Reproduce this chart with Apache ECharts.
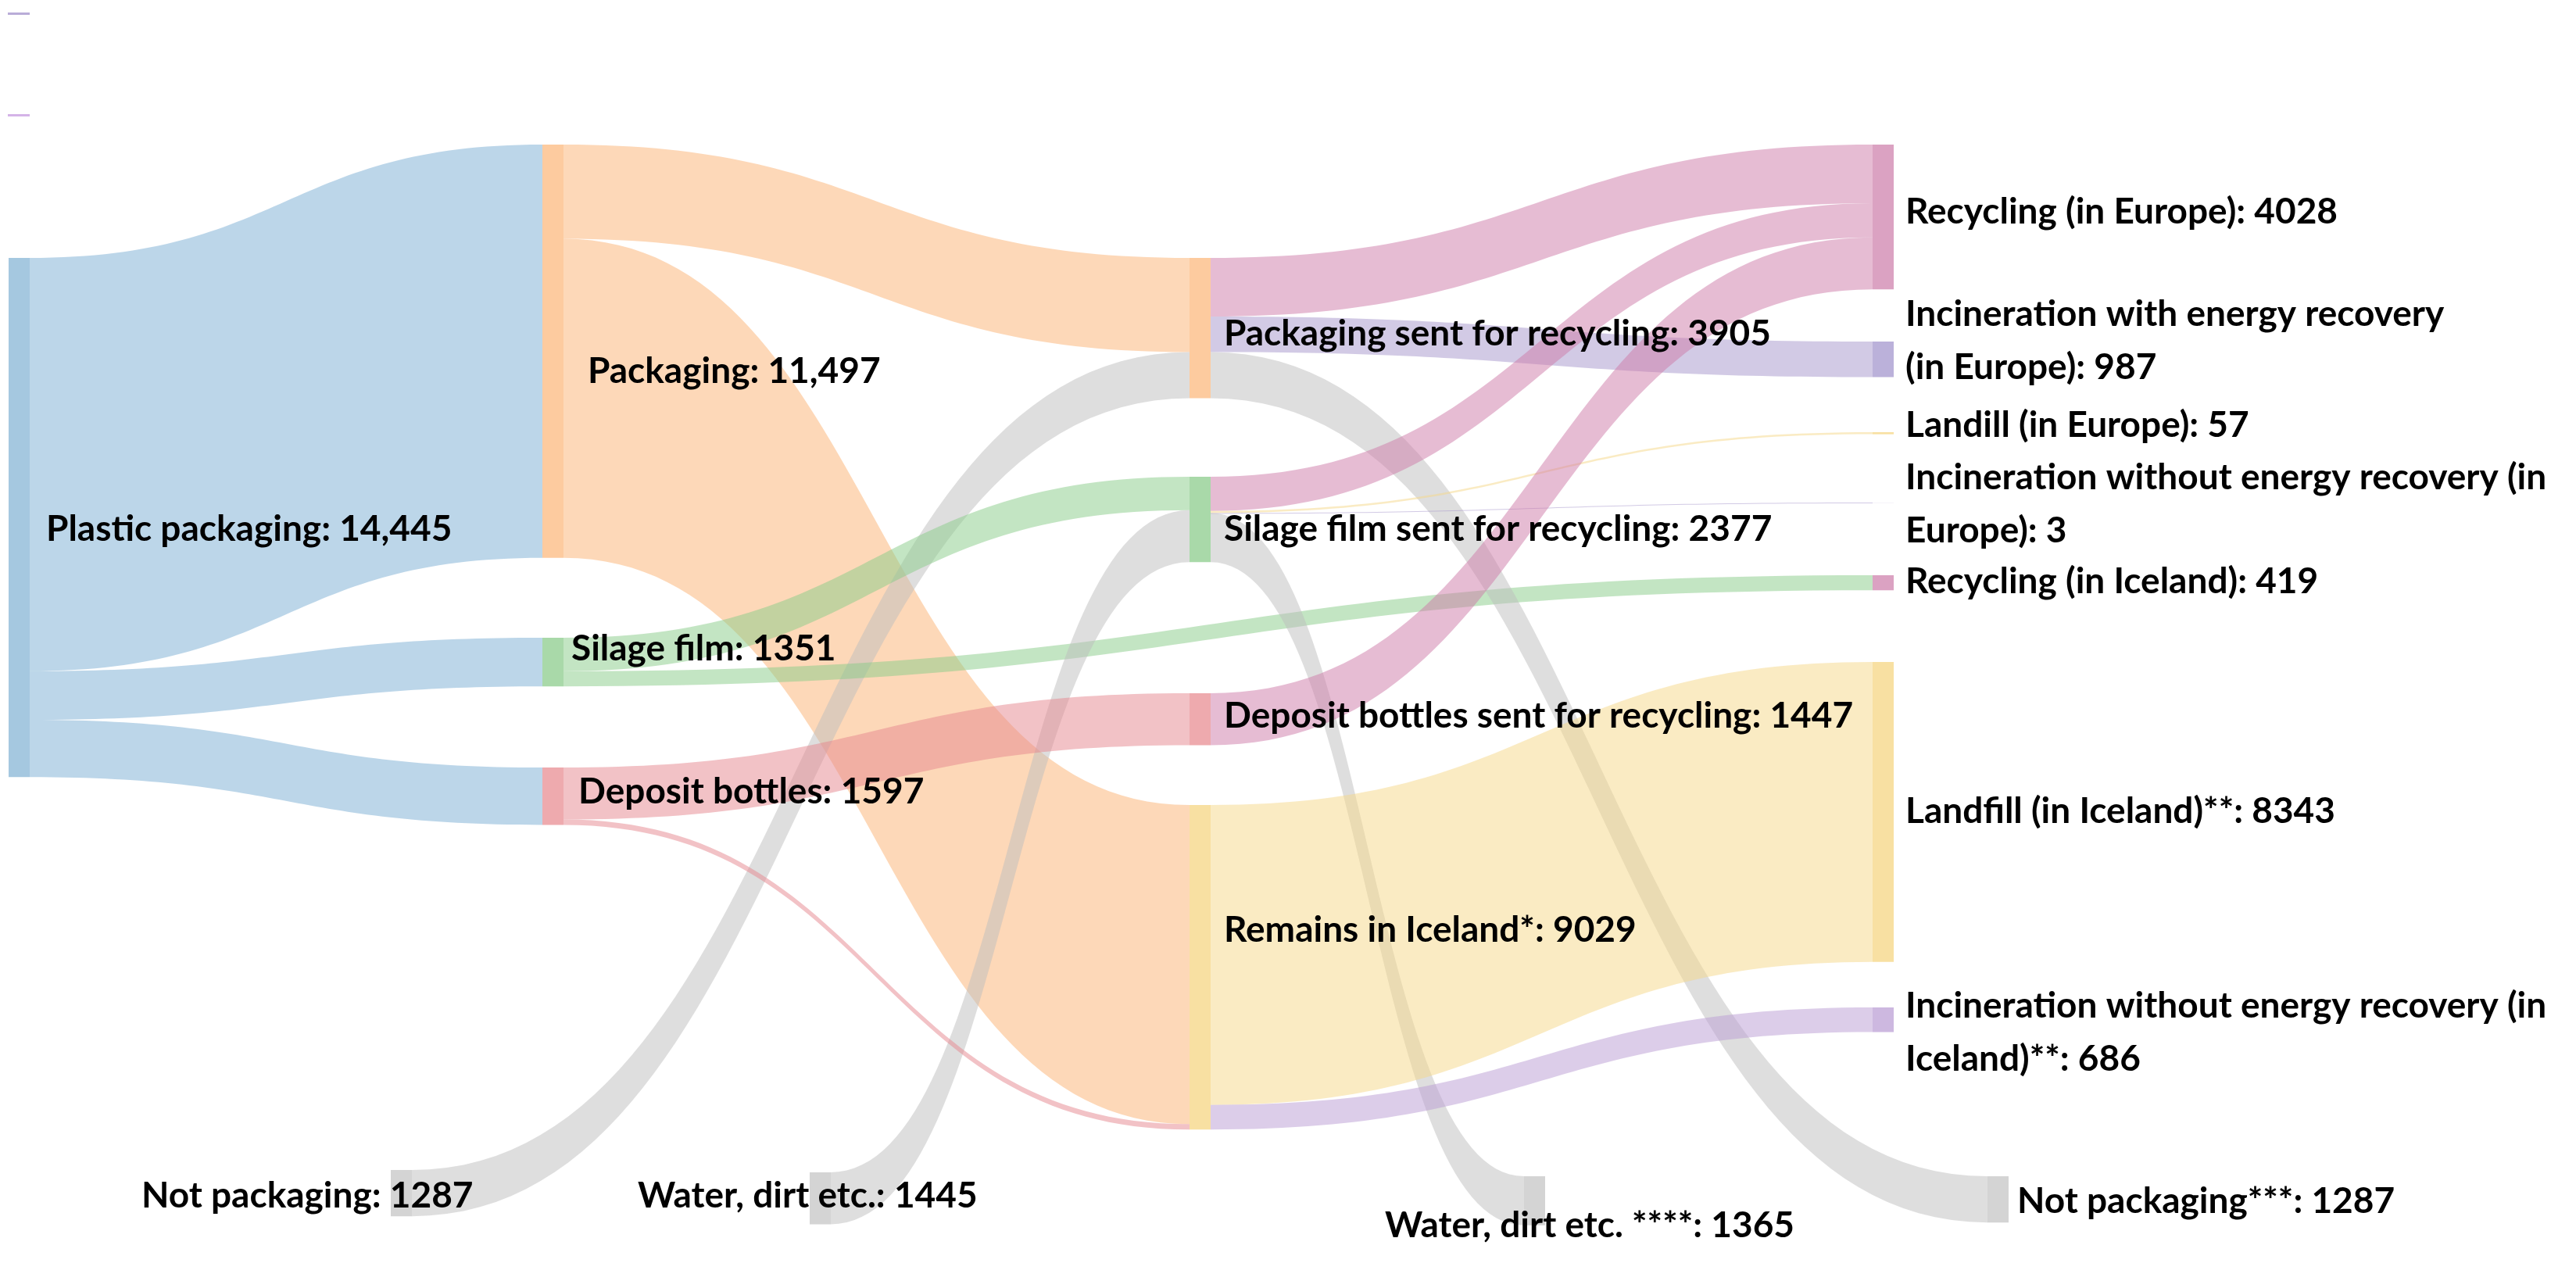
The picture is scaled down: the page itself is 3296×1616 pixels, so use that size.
<!DOCTYPE html>
<html>
<head>
<meta charset="utf-8">
<script src="https://cdn.jsdelivr.net/npm/echarts@6/dist/echarts.min.js"></script>
<style>
  html, body { margin: 0; padding: 0; background: #fff; }
  #chart { width: 3296px; height: 1616px; }
</style>
</head>
<body>
<div id="chart"></div>
<script>
// ==== data ====
var nodeNames = [
    'Plastic packaging', 'Not packaging', 'Water, dirt etc.',
    'Packaging', 'Silage film', 'Deposit bottles',
    'Packaging sent for recycling', 'Silage film sent for recycling',
    'Deposit bottles sent for recycling', 'Remains in Iceland*',
    'Recycling (in Europe)', 'Incineration with energy recovery (in Europe)',
    'Landill (in Europe)', 'Incineration without energy recovery (in Europe)',
    'Recycling (in Iceland)', 'Landfill (in Iceland)**',
    'Incineration without energy recovery (in Iceland)**',
    'Water, dirt etc. ****', 'Not packaging***'
];
var nodeLabels = [
    'Plastic packaging: 14,445', 'Not packaging: 1287', 'Water, dirt etc.: 1445',
    'Packaging: 11,497', 'Silage film: 1351', 'Deposit bottles: 1597',
    'Packaging sent for recycling: 3905', 'Silage film sent for recycling: 2377',
    'Deposit bottles sent for recycling: 1447', 'Remains in Iceland*: 9029',
    'Recycling (in Europe): 4028', 'Incineration with energy recovery\n(in Europe): 987',
    'Landill (in Europe): 57', 'Incineration without energy recovery (in\nEurope): 3',
    'Recycling (in Iceland): 419', 'Landfill (in Iceland)**: 8343',
    'Incineration without energy recovery (in\nIceland)**: 686',
    'Water, dirt etc. ****: 1365', 'Not packaging***: 1287'
];
var linkSource = [0, 0, 0, 3, 3, 1, 4, 4, 2, 5, 5, 6, 6, 6, 7, 7, 7, 7, 8, 9, 9];
var linkTarget = [3, 4, 5, 6, 9, 6, 7, 14, 7, 8, 9, 10, 11, 18, 10, 12, 13, 17, 10, 15, 16];
var linkValues = [11497, 1351, 1597, 2618, 8879, 1287, 932, 419, 1445, 1447, 150,
                  1631, 987, 1287, 952, 57, 3, 1365, 1447, 8343, 686];

// ==== look ====
var W = 3296, H = 870;
// node top-left positions (px)
var nodePos = [
    [11, 330], [500, 1497], [1036, 1500],
    [694, 185], [694, 816], [694, 982],
    [1522, 330], [1522, 610], [1522, 887], [1522, 1030],
    [2396, 185], [2396, 437], [2396, 553], [2396, 643],
    [2396, 736], [2396, 847], [2396, 1289],
    [1950, 1505], [2543, 1505]
];
// label anchor relative to node top-left
var labelPos = [
    [48, 347], [-319, 33], [-220, 30],
    [58, 290], [37, 14], [46, 31],
    [44, 97], [44, 67], [44, 29], [44, 160],
    [42, 86], [42, -1], [42, -9], [42, 2],
    [42, 8], [42, 191], [42, 32],
    [-178, 63], [38, 32]
];
var nodeColors = [
    '#a5c8e0', '#d4d4d4', '#d4d4d4',
    '#fdcb9f', '#a9d9a9', '#eeaaae',
    '#fdcb9f', '#a9d9a9', '#eeaaae', '#f8e0a2',
    '#dba2c2', '#bbb1da', '#f8e0a2', '#bbb1da',
    '#dba2c2', '#f8e0a2', '#cdb8e0',
    '#d4d4d4', '#d4d4d4'
];
var linkColors = [
    '#79add3', '#79add3', '#79add3', '#fbb171', '#fbb171', '#bdbdbd',
    '#87cb87', '#87cb87', '#bdbdbd', '#e5858d', '#e5858d',
    '#cd79a7', '#a595cb', '#bdbdbd', '#cd79a7', '#f5d787', '#a595cb', '#bdbdbd',
    '#cd79a7', '#f5d787', '#b99bd3'
];

var nodes = [];
for (var i = 0; i < nodeNames.length; i++) {
    nodes.push({
        name: nodeNames[i],
        localX: nodePos[i][0] / W,
        localY: nodePos[i][1] / H,
        itemStyle: { color: nodeColors[i] },
        label: {
            position: labelPos[i],
            align: 'left',
            verticalAlign: 'middle',
            formatter: nodeLabels[i]
        }
    });
}
var links = [];
for (var j = 0; j < linkValues.length; j++) {
    links.push({
        source: nodeNames[linkSource[j]],
        target: nodeNames[linkTarget[j]],
        value: linkValues[j],
        lineStyle: { color: linkColors[j] }
    });
}

var myChart = echarts.init(document.getElementById('chart'));
myChart.setOption({
    animation: false,
    backgroundColor: '#fff',
    graphic: [
        { type: 'rect', shape: { x: 10, y: 16, width: 28, height: 3 }, style: { fill: '#b9acd8' } },
        { type: 'rect', shape: { x: 10, y: 146, width: 28, height: 3 }, style: { fill: '#d4b3e8' } }
    ],
    series: [{
        type: 'sankey',
        left: 0,
        top: 0,
        width: W,
        height: H,
        nodeWidth: 27,
        nodeGap: 10,
        layoutIterations: 0,
        draggable: false,
        emphasis: { disabled: true },
        itemStyle: { borderWidth: 0 },
        lineStyle: { opacity: 0.5, curveness: 0.5 },
        label: {
            color: '#000',
            fontFamily: 'Lato',
            fontWeight: 'bold',
            fontSize: 46,
            lineHeight: 68
        },
        data: nodes,
        links: links
    }]
});
</script>
</body>
</html>
